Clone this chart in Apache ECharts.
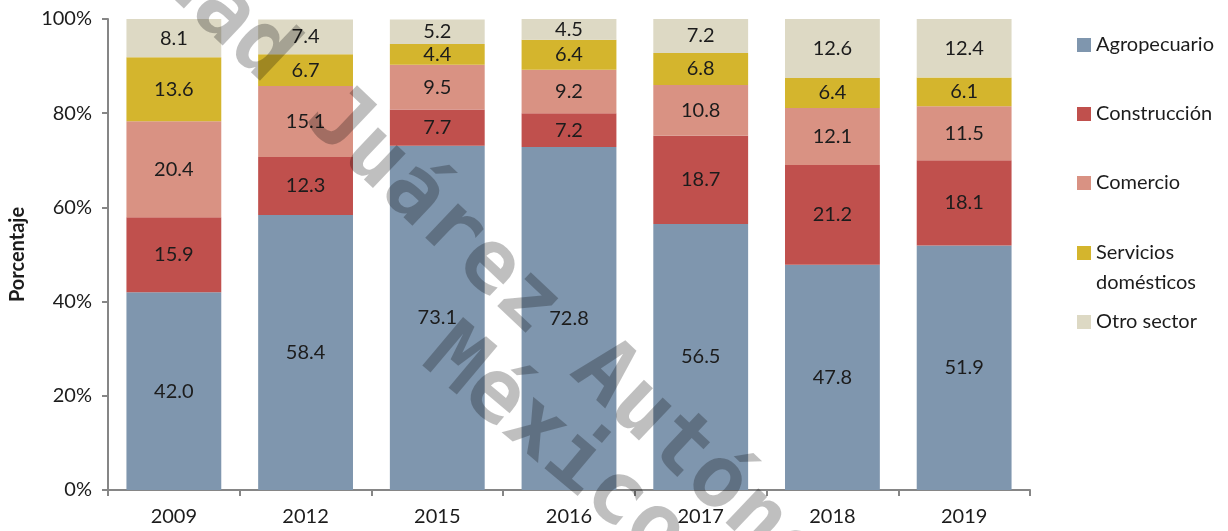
<!DOCTYPE html>
<html>
<head>
<meta charset="utf-8">
<script src="https://cdn.jsdelivr.net/npm/echarts@6/dist/echarts.min.js"></script>
<style>
html,body{margin:0;padding:0;background:#fff;}
#chart{width:1228px;height:531px;}
</style>
</head>
<body>
<div id="chart"></div>
<script>
// ---- data ----
const years = ['2009', '2012', '2015', '2016', '2017', '2018', '2019'];
const agropecuario = [42.0, 58.4, 73.1, 72.8, 56.5, 47.8, 51.9];
const construccion = [15.9, 12.3, 7.7, 7.2, 18.7, 21.2, 18.1];
const comercio = [20.4, 15.1, 9.5, 9.2, 10.8, 12.1, 11.5];
const serviciosDomesticos = [13.6, 6.7, 4.4, 6.4, 6.8, 6.4, 6.1];
const otroSector = [8.1, 7.4, 5.2, 4.5, 7.2, 12.6, 12.4];
const seriesNames = ['Agropecuario', 'Construcción', 'Comercio', 'Servicios domésticos', 'Otro sector'];
const yTicks = [0, 20, 40, 60, 80, 100];

// ---- styling ----
const colors = ['#7f96ae', '#c0504d', '#d99283', '#d4b52d', '#ddd9c4'];
const FONT = 'Lato, "Open Sans", sans-serif';
const seriesData = [agropecuario, construccion, comercio, serviciosDomesticos, otroSector];

const chart = echarts.init(document.getElementById('chart'), null, {renderer: 'canvas'});

const series = seriesNames.map((name, i) => ({
  name: name,
  type: 'bar',
  stack: 'total',
  data: seriesData[i],
  barCategoryGap: '28%',
  itemStyle: {color: colors[i]},
  label: {
    show: true,
    position: 'inside',
    color: '#1c1c1c',
    fontFamily: FONT,
    fontSize: 20,
    formatter: p => p.value.toFixed(1)
  },
  emphasis: {disabled: true}
}));

// legends: one per item, to reproduce the uneven vertical spacing
const legendTops = [33, 102, 171, 208, 310];
const legends = seriesNames.map((name, i) => ({
  data: [name],
  orient: 'vertical',
  left: 1077,
  top: legendTops[i],
  itemWidth: 14,
  itemHeight: 14,
  itemGap: 5,
  selectedMode: false,
  icon: 'rect',
  padding: 0,
  formatter: n => n === 'Servicios domésticos' ? '\nServicios\ndomésticos' : n,
  textStyle: {
    fontFamily: FONT,
    fontSize: 20,
    color: '#1c1c1c',
    lineHeight: name === 'Servicios domésticos' ? 30 : 24
  }
}));

// watermark overlay
const deg = Math.PI / 180;
const wmFont = 'bold 87px "DejaVu Sans Mono", "Liberation Mono", monospace';
const wmFill = 'rgba(0,0,0,0.25)';

const option = {
  animation: false,
  backgroundColor: '#ffffff',
  grid: {left: 108, right: 198, top: 19, bottom: 41, containLabel: false},
  legend: legends,
  xAxis: {
    type: 'category',
    data: years,
    axisLine: {show: true, lineStyle: {color: '#868686', width: 2}},
    axisTick: {show: true, length: 6, lineStyle: {color: '#868686', width: 2}},
    axisLabel: {fontFamily: FONT, fontSize: 20, color: '#1c1c1c', margin: 17}
  },
  yAxis: {
    type: 'value',
    min: yTicks[0],
    max: yTicks[yTicks.length - 1],
    interval: yTicks[1] - yTicks[0],
    name: 'Porcentaje',
    nameLocation: 'middle',
    nameGap: 80,
    nameTextStyle: {fontFamily: FONT, fontSize: 20, fontWeight: 'bold', color: '#1c1c1c'},
    splitLine: {show: false},
    axisLine: {show: true, lineStyle: {color: '#868686', width: 2}},
    axisTick: {show: true, length: 6, lineStyle: {color: '#868686', width: 2}},
    axisLabel: {fontFamily: FONT, fontSize: 20, color: '#1c1c1c', margin: 16, formatter: '{value}%'}
  },
  series: series,
  graphic: [
    {
      type: 'text', z: 100, silent: true,
      x: -138, y: -328, rotation: -43.5 * deg,
      style: {text: 'Universidad Juárez Autónoma de Tabasco', font: wmFont, fill: wmFill,
              textAlign: 'left', textVerticalAlign: 'middle'}
    },
    {
      type: 'text', z: 100, silent: true,
      x: 434, y: 346, rotation: -40 * deg,
      style: {text: 'México', font: wmFont, fill: wmFill,
              textAlign: 'left', textVerticalAlign: 'middle'}
    }
  ]
};

chart.setOption(option);
</script>
</body>
</html>
